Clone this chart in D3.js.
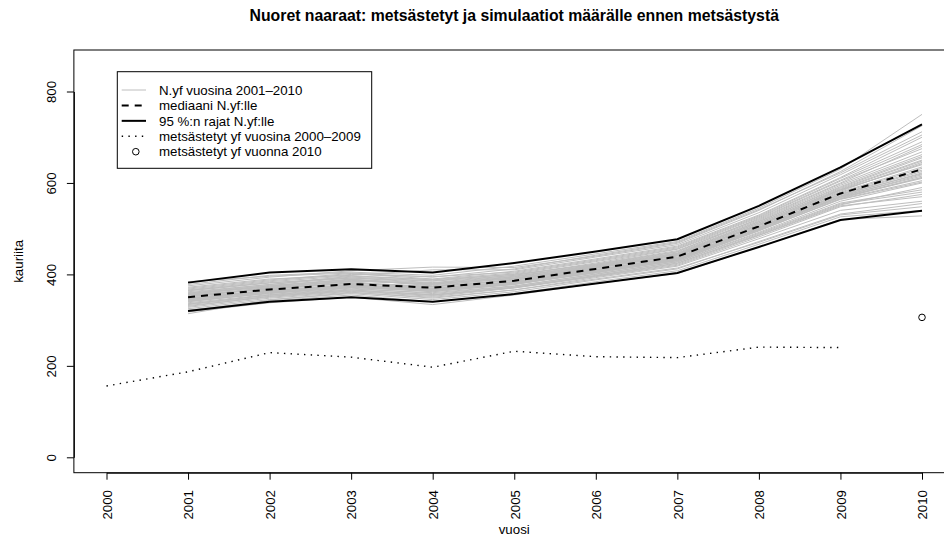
<!DOCTYPE html>
<html>
<head>
<meta charset="utf-8">
<script src="https://cdn.jsdelivr.net/npm/d3@7"></script>
<style>
  body { margin: 0; background: #fff; }
  svg { display: block; font-family: "Liberation Sans", Arial, Helvetica, sans-serif; }
</style>
</head>
<body>
<div id="chart"></div>
<script>
// values
const xTicks = [2000, 2001, 2002, 2003, 2004, 2005, 2006, 2007, 2008, 2009, 2010];
const yTicks = [0, 200, 400, 600, 800];
const simYears = [2001, 2002, 2003, 2004, 2005, 2006, 2007, 2008, 2009, 2010];
const harvestYears = [2000, 2001, 2002, 2003, 2004, 2005, 2006, 2007, 2008, 2009];
const harvested = [156, 187, 229, 219, 197, 232, 220, 218, 241, 240];
const harvest2010 = 306;
const medianN = [350, 367, 379, 371, 386, 412, 439, 505, 577, 630];
const upperN = [382, 404, 411, 404, 425, 450, 477, 550, 634, 728];
const lowerN = [320, 340, 350, 340, 357, 380, 403, 460, 519, 539];
const simN = [
  [352, 370, 384, 368, 390, 415, 442, 510, 585, 640],
  [340, 360, 372, 366, 380, 405, 430, 495, 566, 612],
  [365, 382, 392, 385, 398, 425, 455, 520, 598, 668],
  [330, 352, 366, 356, 372, 398, 425, 486, 552, 590],
  [358, 375, 388, 378, 395, 420, 447, 515, 590, 655],
  [345, 362, 375, 363, 378, 404, 432, 500, 570, 618],
  [372, 390, 398, 410, 410, 438, 465, 535, 618, 705],
  [325, 345, 358, 345, 362, 388, 412, 472, 532, 555],
  [355, 368, 381, 373, 389, 414, 440, 507, 578, 632],
  [348, 366, 376, 370, 384, 410, 436, 503, 575, 625],
  [362, 378, 396, 388, 400, 422, 450, 522, 600, 680],
  [335, 355, 368, 360, 375, 400, 428, 492, 560, 600],
  [350, 372, 385, 380, 392, 418, 445, 512, 588, 650],
  [342, 358, 372, 362, 378, 406, 433, 498, 568, 610],
  [378, 398, 405, 398, 418, 445, 472, 545, 630, 750],
  [318, 338, 350, 334, 355, 380, 402, 460, 520, 528],
  [356, 374, 390, 375, 392, 416, 444, 508, 582, 645],
  [346, 364, 374, 368, 382, 409, 434, 500, 572, 622],
  [368, 386, 400, 395, 405, 432, 460, 528, 610, 690],
  [338, 356, 370, 358, 374, 401, 427, 490, 556, 585],
  [353, 369, 380, 372, 388, 413, 441, 506, 580, 635],
  [332, 350, 363, 352, 370, 395, 420, 482, 548, 575],
  [360, 378, 392, 382, 398, 423, 452, 518, 595, 662],
  [344, 363, 376, 366, 383, 408, 435, 501, 571, 615],
  [370, 388, 402, 390, 407, 434, 462, 530, 612, 700],
  [328, 348, 361, 348, 366, 393, 418, 478, 540, 560],
  [357, 373, 386, 379, 394, 419, 446, 513, 586, 648],
  [341, 359, 371, 364, 381, 407, 431, 497, 565, 605],
  [364, 381, 394, 386, 401, 428, 456, 524, 604, 675],
  [336, 354, 366, 355, 372, 397, 424, 488, 554, 580],
  [351, 368, 382, 374, 387, 411, 438, 504, 576, 628],
  [347, 365, 378, 369, 385, 410, 437, 502, 574, 620],
  [375, 394, 408, 416, 415, 440, 468, 540, 625, 725],
  [322, 342, 355, 340, 358, 384, 408, 466, 526, 540],
  [359, 376, 389, 381, 396, 421, 449, 516, 592, 658],
  [343, 361, 373, 365, 379, 403, 430, 496, 564, 602],
  [366, 384, 397, 389, 403, 430, 458, 526, 606, 684],
  [334, 352, 364, 354, 371, 396, 422, 485, 550, 570],
  [354, 371, 387, 377, 391, 417, 443, 509, 584, 642],
  [349, 363, 377, 367, 383, 408, 433, 499, 569, 612],
  [314, 344, 360, 350, 366, 390, 414, 470, 530, 548],
  [384, 396, 403, 394, 412, 442, 470, 542, 622, 712]
];
const legendLabels = [
  'N.yf vuosina 2001\u20132010',
  'mediaani N.yf:lle',
  '95 %:n rajat N.yf:lle',
  'mets\u00e4stetyt yf vuosina 2000\u20132009',
  'mets\u00e4stetyt yf vuonna 2010'
];

const width = 944, height = 540, fontSize = 13.3;

const svg = d3.select('#chart').append('svg')
  .attr('width', width)
  .attr('height', height);

const x = d3.scaleLinear().domain([2000, 2010]).range([106.5, 922]);
const y = d3.scaleLinear().domain([0, 800]).range([457.3, 91.5]);

// R style box around the plot region (4% extension)
const boxLeft = x(1999.6), boxRight = x(2010.4), boxTop = 50, boxBottom = 472.7;

const line = d3.line().x(d => d[0]).y(d => y(d[1]));
const pairs = (xs, vs) => xs.map((yr, i) => [x(yr), vs[i]]);

// simulated trajectories
svg.append('g').selectAll('path')
  .data(simN)
  .enter().append('path')
  .attr('d', d => line(pairs(simYears, d)))
  .attr('fill', 'none')
  .attr('stroke', '#bebebe')
  .attr('stroke-width', 1);

svg.append('path')
  .attr('d', line(pairs(simYears, medianN)))
  .attr('fill', 'none')
  .attr('stroke', '#000')
  .attr('stroke-width', 2)
  .attr('stroke-dasharray', '7,6');

[upperN, lowerN].forEach(vals => {
  svg.append('path')
    .attr('d', line(pairs(simYears, vals)))
    .attr('fill', 'none')
    .attr('stroke', '#000')
    .attr('stroke-width', 2);
});

svg.append('path')
  .attr('d', line(pairs(harvestYears, harvested)))
  .attr('fill', 'none')
  .attr('stroke', '#000')
  .attr('stroke-width', 1.4)
  .attr('stroke-dasharray', '1.4,5.3');

svg.append('circle')
  .attr('cx', x(2010))
  .attr('cy', y(harvest2010))
  .attr('r', 3.3)
  .attr('fill', 'none')
  .attr('stroke', '#000');

// frame
svg.append('rect')
  .attr('x', boxLeft)
  .attr('y', boxTop)
  .attr('width', boxRight - boxLeft)
  .attr('height', boxBottom - boxTop)
  .attr('fill', 'none')
  .attr('stroke', '#000')
  .attr('stroke-width', 1);

// x axis
const xAxis = svg.append('g')
  .attr('transform', 'translate(0,' + boxBottom + ')')
  .call(d3.axisBottom(x).tickValues(xTicks).tickFormat(d3.format('d'))
    .tickSize(7).tickSizeOuter(0));
xAxis.selectAll('text')
  .attr('transform', 'rotate(-90)')
  .attr('x', -17.3)
  .attr('y', 0)
  .attr('dy', '0.36em')
  .attr('text-anchor', 'end');

// y axis
const yAxis = svg.append('g')
  .attr('transform', 'translate(' + boxLeft + ',0)')
  .call(d3.axisLeft(y).tickValues(yTicks).tickSize(7).tickSizeOuter(0));
yAxis.selectAll('text')
  .attr('transform', 'rotate(-90)')
  .attr('x', 0)
  .attr('y', -18)
  .attr('dy', 0)
  .attr('text-anchor', 'middle');

svg.selectAll('.tick line').attr('stroke', '#000');
svg.selectAll('.domain').attr('stroke', '#000');
svg.selectAll('.tick text')
  .attr('fill', '#000')
  .style('font-size', fontSize + 'px')
  .style('font-family', '"Liberation Sans", Arial, sans-serif');

// titles
svg.append('text')
  .attr('x', (boxLeft + boxRight) / 2)
  .attr('y', 21)
  .attr('text-anchor', 'middle')
  .style('font-weight', 'bold')
  .style('font-size', '15.8px')
  .text('Nuoret naaraat: mets\u00e4stetyt ja simulaatiot m\u00e4\u00e4r\u00e4lle ennen mets\u00e4styst\u00e4');

svg.append('text')
  .attr('x', (boxLeft + boxRight) / 2)
  .attr('y', 534)
  .attr('text-anchor', 'middle')
  .style('font-size', fontSize + 'px')
  .text('vuosi');

svg.append('text')
  .attr('transform', 'translate(23,' + ((boxTop + boxBottom) / 2) + ') rotate(-90)')
  .attr('text-anchor', 'middle')
  .style('font-size', fontSize + 'px')
  .text('kauriita');

// legend
const legend = svg.append('g').attr('transform', 'translate(117.3,71.7)');
legend.append('rect')
  .attr('width', 254.4)
  .attr('height', 96.6)
  .attr('fill', '#fff')
  .attr('stroke', '#000');

const rowY = d3.scaleLinear().domain([0, 4]).range([18.3, 80]);
const sampleStyles = [
  {stroke: '#bebebe', width: 1, dash: null},
  {stroke: '#000', width: 2, dash: '7,6'},
  {stroke: '#000', width: 2, dash: null},
  {stroke: '#000', width: 1.4, dash: '1.4,5.3'}
];
const items = legend.selectAll('.legendItem')
  .data(legendLabels)
  .enter().append('g')
  .attr('class', 'legendItem')
  .attr('transform', (d, i) => 'translate(0,' + rowY(i) + ')');

items.each(function(d, i) {
  const cell = d3.select(this);
  if (i < 4) {
    const s = sampleStyles[i];
    cell.append('line')
      .attr('x1', 4.4).attr('x2', 28.7)
      .attr('y1', 0).attr('y2', 0)
      .attr('stroke', s.stroke)
      .attr('stroke-width', s.width)
      .attr('stroke-dasharray', s.dash);
  } else {
    cell.append('circle')
      .attr('cx', 18.5).attr('cy', 0).attr('r', 3.3)
      .attr('fill', 'none').attr('stroke', '#000');
  }
  cell.append('text')
    .attr('x', 41.7)
    .attr('dy', '0.36em')
    .style('font-size', fontSize + 'px')
    .text(d);
});
</script>
</body>
</html>
